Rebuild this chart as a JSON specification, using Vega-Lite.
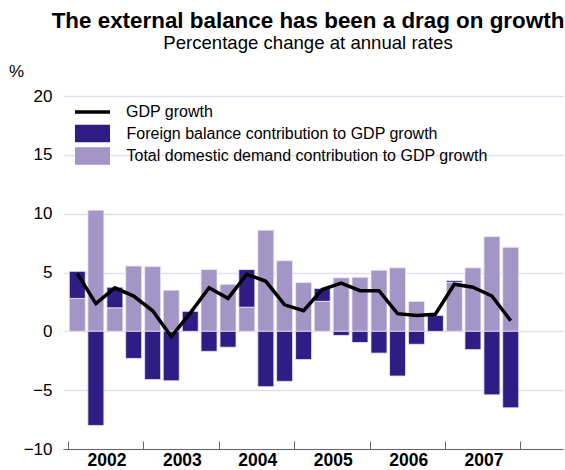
{
  "$schema": "https://vega.github.io/schema/vega-lite/v6.json",
  "width": 500,
  "height": 353,
  "autosize": {"type": "none"},
  "padding": {"left": 63, "top": 96, "right": 2, "bottom": 21},
  "background": "white",
  "config": {"view": {"stroke": null}, "font": "Liberation Sans"},
  "title": {
    "text": "The external balance has been a drag on growth",
    "subtitle": "Percentage change at annual rates",
    "anchor": "middle",
    "frame": "group",
    "dx": -5,
    "offset": 9,
    "font": "Liberation Sans",
    "fontSize": 22.4,
    "fontWeight": "bold",
    "color": "#000000",
    "subtitleFont": "Liberation Sans",
    "subtitleFontSize": 18.6,
    "subtitleColor": "#000000",
    "subtitlePadding": 2
  },
  "data": {
    "values": [
      {"date": "2002-02-15", "domestic": 2.8, "foreign": 2.3, "gdp": 4.9},
      {"date": "2002-05-16", "domestic": 10.3, "foreign": -8.0, "gdp": 2.35},
      {"date": "2002-08-16", "domestic": 2.0, "foreign": 1.75, "gdp": 3.7},
      {"date": "2002-11-15", "domestic": 5.55, "foreign": -2.3, "gdp": 3.0},
      {"date": "2003-02-15", "domestic": 5.5, "foreign": -4.1, "gdp": 1.75},
      {"date": "2003-05-16", "domestic": 3.5, "foreign": -4.2, "gdp": -0.45},
      {"date": "2003-08-16", "domestic": 0.0, "foreign": 1.7, "gdp": 1.55},
      {"date": "2003-11-15", "domestic": 5.25, "foreign": -1.7, "gdp": 3.7},
      {"date": "2004-02-15", "domestic": 4.0, "foreign": -1.35, "gdp": 2.8},
      {"date": "2004-05-16", "domestic": 2.05, "foreign": 3.2, "gdp": 4.85},
      {"date": "2004-08-16", "domestic": 8.6, "foreign": -4.7, "gdp": 4.25},
      {"date": "2004-11-15", "domestic": 6.0, "foreign": -4.25, "gdp": 2.25},
      {"date": "2005-02-15", "domestic": 4.15, "foreign": -2.4, "gdp": 1.75},
      {"date": "2005-05-16", "domestic": 2.55, "foreign": 1.1, "gdp": 3.55},
      {"date": "2005-08-16", "domestic": 4.55, "foreign": -0.35, "gdp": 4.1},
      {"date": "2005-11-15", "domestic": 4.6, "foreign": -0.95, "gdp": 3.45},
      {"date": "2006-02-15", "domestic": 5.2, "foreign": -1.85, "gdp": 3.45},
      {"date": "2006-05-16", "domestic": 5.4, "foreign": -3.8, "gdp": 1.5},
      {"date": "2006-08-16", "domestic": 2.55, "foreign": -1.1, "gdp": 1.35},
      {"date": "2006-11-15", "domestic": 0.0, "foreign": 1.35, "gdp": 1.45},
      {"date": "2007-02-15", "domestic": 4.15, "foreign": 0.15, "gdp": 4.0},
      {"date": "2007-05-16", "domestic": 5.4, "foreign": -1.55, "gdp": 3.75},
      {"date": "2007-08-16", "domestic": 8.05, "foreign": -5.4, "gdp": 3.0},
      {"date": "2007-11-15", "domestic": 7.15, "foreign": -6.5, "gdp": 0.9}
    ]
  },
  "layer": [
    {
      "transform": [
        {"fold": ["domestic", "foreign"], "as": ["key", "value"]},
        {"lookup": "key", "from": {"data": {"values": [
          {"key": "domestic", "series": "Total domestic demand contribution to GDP growth", "rank": 1},
          {"key": "foreign", "series": "Foreign balance contribution to GDP growth", "rank": 2}
        ]}, "key": "key", "fields": ["series", "rank"]}}
      ],
      "mark": {"type": "bar", "size": 16, "stroke": "#ece9f5", "strokeWidth": 0.8},
      "encoding": {
        "x": {
          "field": "date",
          "type": "temporal",
          "scale": {"type": "utc", "domain": [{"year": 2002, "month": 1, "date": 1, "utc": true}, {"year": 2008, "month": 7, "date": 1, "utc": true}], "nice": false},
          "axis": {
            "title": null,
            "values": [
              {"year": 2002, "month": 1, "date": 1, "utc": true}, {"year": 2002, "month": 4, "date": 1, "utc": true}, {"year": 2002, "month": 7, "date": 1, "utc": true}, {"year": 2002, "month": 10, "date": 1, "utc": true},
              {"year": 2003, "month": 1, "date": 1, "utc": true}, {"year": 2003, "month": 4, "date": 1, "utc": true}, {"year": 2003, "month": 7, "date": 1, "utc": true}, {"year": 2003, "month": 10, "date": 1, "utc": true},
              {"year": 2004, "month": 1, "date": 1, "utc": true}, {"year": 2004, "month": 4, "date": 1, "utc": true}, {"year": 2004, "month": 7, "date": 1, "utc": true}, {"year": 2004, "month": 10, "date": 1, "utc": true},
              {"year": 2005, "month": 1, "date": 1, "utc": true}, {"year": 2005, "month": 4, "date": 1, "utc": true}, {"year": 2005, "month": 7, "date": 1, "utc": true}, {"year": 2005, "month": 10, "date": 1, "utc": true},
              {"year": 2006, "month": 1, "date": 1, "utc": true}, {"year": 2006, "month": 4, "date": 1, "utc": true}, {"year": 2006, "month": 7, "date": 1, "utc": true}, {"year": 2006, "month": 10, "date": 1, "utc": true},
              {"year": 2007, "month": 1, "date": 1, "utc": true}, {"year": 2007, "month": 4, "date": 1, "utc": true}, {"year": 2007, "month": 7, "date": 1, "utc": true}, {"year": 2007, "month": 10, "date": 1, "utc": true},
              {"year": 2008, "month": 1, "date": 1, "utc": true}, {"year": 2008, "month": 4, "date": 1, "utc": true}, {"year": 2008, "month": 7, "date": 1, "utc": true}
            ],
            "labelExpr": "utcmonth(datum.value) === 0 && utcyear(datum.value) < 2008 ? utcFormat(datum.value, '%Y') : ''",
            "labelOffset": 38.5,
            "labelFlush": false,
            "labelBound": false,
            "labelOverlap": false,
            "labelFont": "Liberation Sans",
            "labelFontSize": 17.5,
            "labelFontWeight": "bold",
            "labelColor": "#000000",
            "labelPadding": 10,
            "grid": false,
            "domain": true,
            "domainColor": "#666666",
            "domainWidth": 1,
            "tickColor": "#666666",
            "tickWidth": 1,
            "tickSize": {"condition": {"test": "utcmonth(datum.value) === 0", "value": -8}, "value": -4}
          }
        },
        "y": {
          "field": "value",
          "type": "quantitative",
          "stack": "zero",
          "scale": {"domain": [-10, 20], "nice": false},
          "axis": {
            "values": [-10, -5, 0, 5, 10, 15, 20],
            "title": "%",
            "titleAngle": 0,
            "titleX": -47,
            "titleY": -20,
            "titleAlign": "center",
            "titleBaseline": "alphabetic",
            "titleFont": "Liberation Sans",
            "titleFontSize": 17,
            "titleFontWeight": "normal",
            "titleColor": "#000000",
            "domain": false,
            "ticks": false,
            "labelPadding": 11,
            "labelFont": "Liberation Sans",
            "labelFontSize": 17,
            "labelColor": "#000000",
            "gridColor": "#e3dff0",
            "gridWidth": 1.5
          }
        },
        "fill": {
          "field": "series",
          "type": "nominal",
          "scale": {
            "domain": ["Foreign balance contribution to GDP growth", "Total domestic demand contribution to GDP growth"],
            "range": ["#2f1c84", "#a396c7"]
          },
          "legend": {
            "title": null,
            "orient": "none",
            "legendX": 12,
            "legendY": 28.5,
            "padding": 0,
            "rowPadding": 4.5,
            "labelFont": "Liberation Sans",
            "labelFontSize": 16,
            "labelColor": "#000000",
            "labelOffset": 25,
            "labelLimit": 500,
            "symbolSize": 306,
            "symbolOffset": 8.5,
            "symbolType": "M-2,-1h4v2h-4z",
            "symbolStrokeWidth": 0,
            "symbolOpacity": 1
          }
        },
        "order": {"field": "rank", "type": "quantitative", "sort": "ascending"}
      }
    },
    {
      "mark": {"type": "line", "strokeWidth": 3.5},
      "encoding": {
        "x": {"field": "date", "type": "temporal"},
        "y": {"field": "gdp", "type": "quantitative"},
        "stroke": {
          "datum": "GDP growth",
          "type": "nominal",
          "scale": {"domain": ["GDP growth"], "range": ["#000000"]},
          "legend": {
            "title": null,
            "orient": "none",
            "legendX": 12,
            "legendY": 5.5,
            "padding": 0,
            "labelFont": "Liberation Sans",
            "labelFontSize": 16,
            "labelColor": "#000000",
            "labelOffset": 23,
            "labelLimit": 500,
            "symbolSize": 306,
            "symbolOffset": 7,
            "symbolType": "M-2,0h4",
            "symbolStrokeWidth": 3.5,
            "symbolStrokeColor": "#000000",
            "symbolOpacity": 1
          }
        }
      }
    }
  ]
}
